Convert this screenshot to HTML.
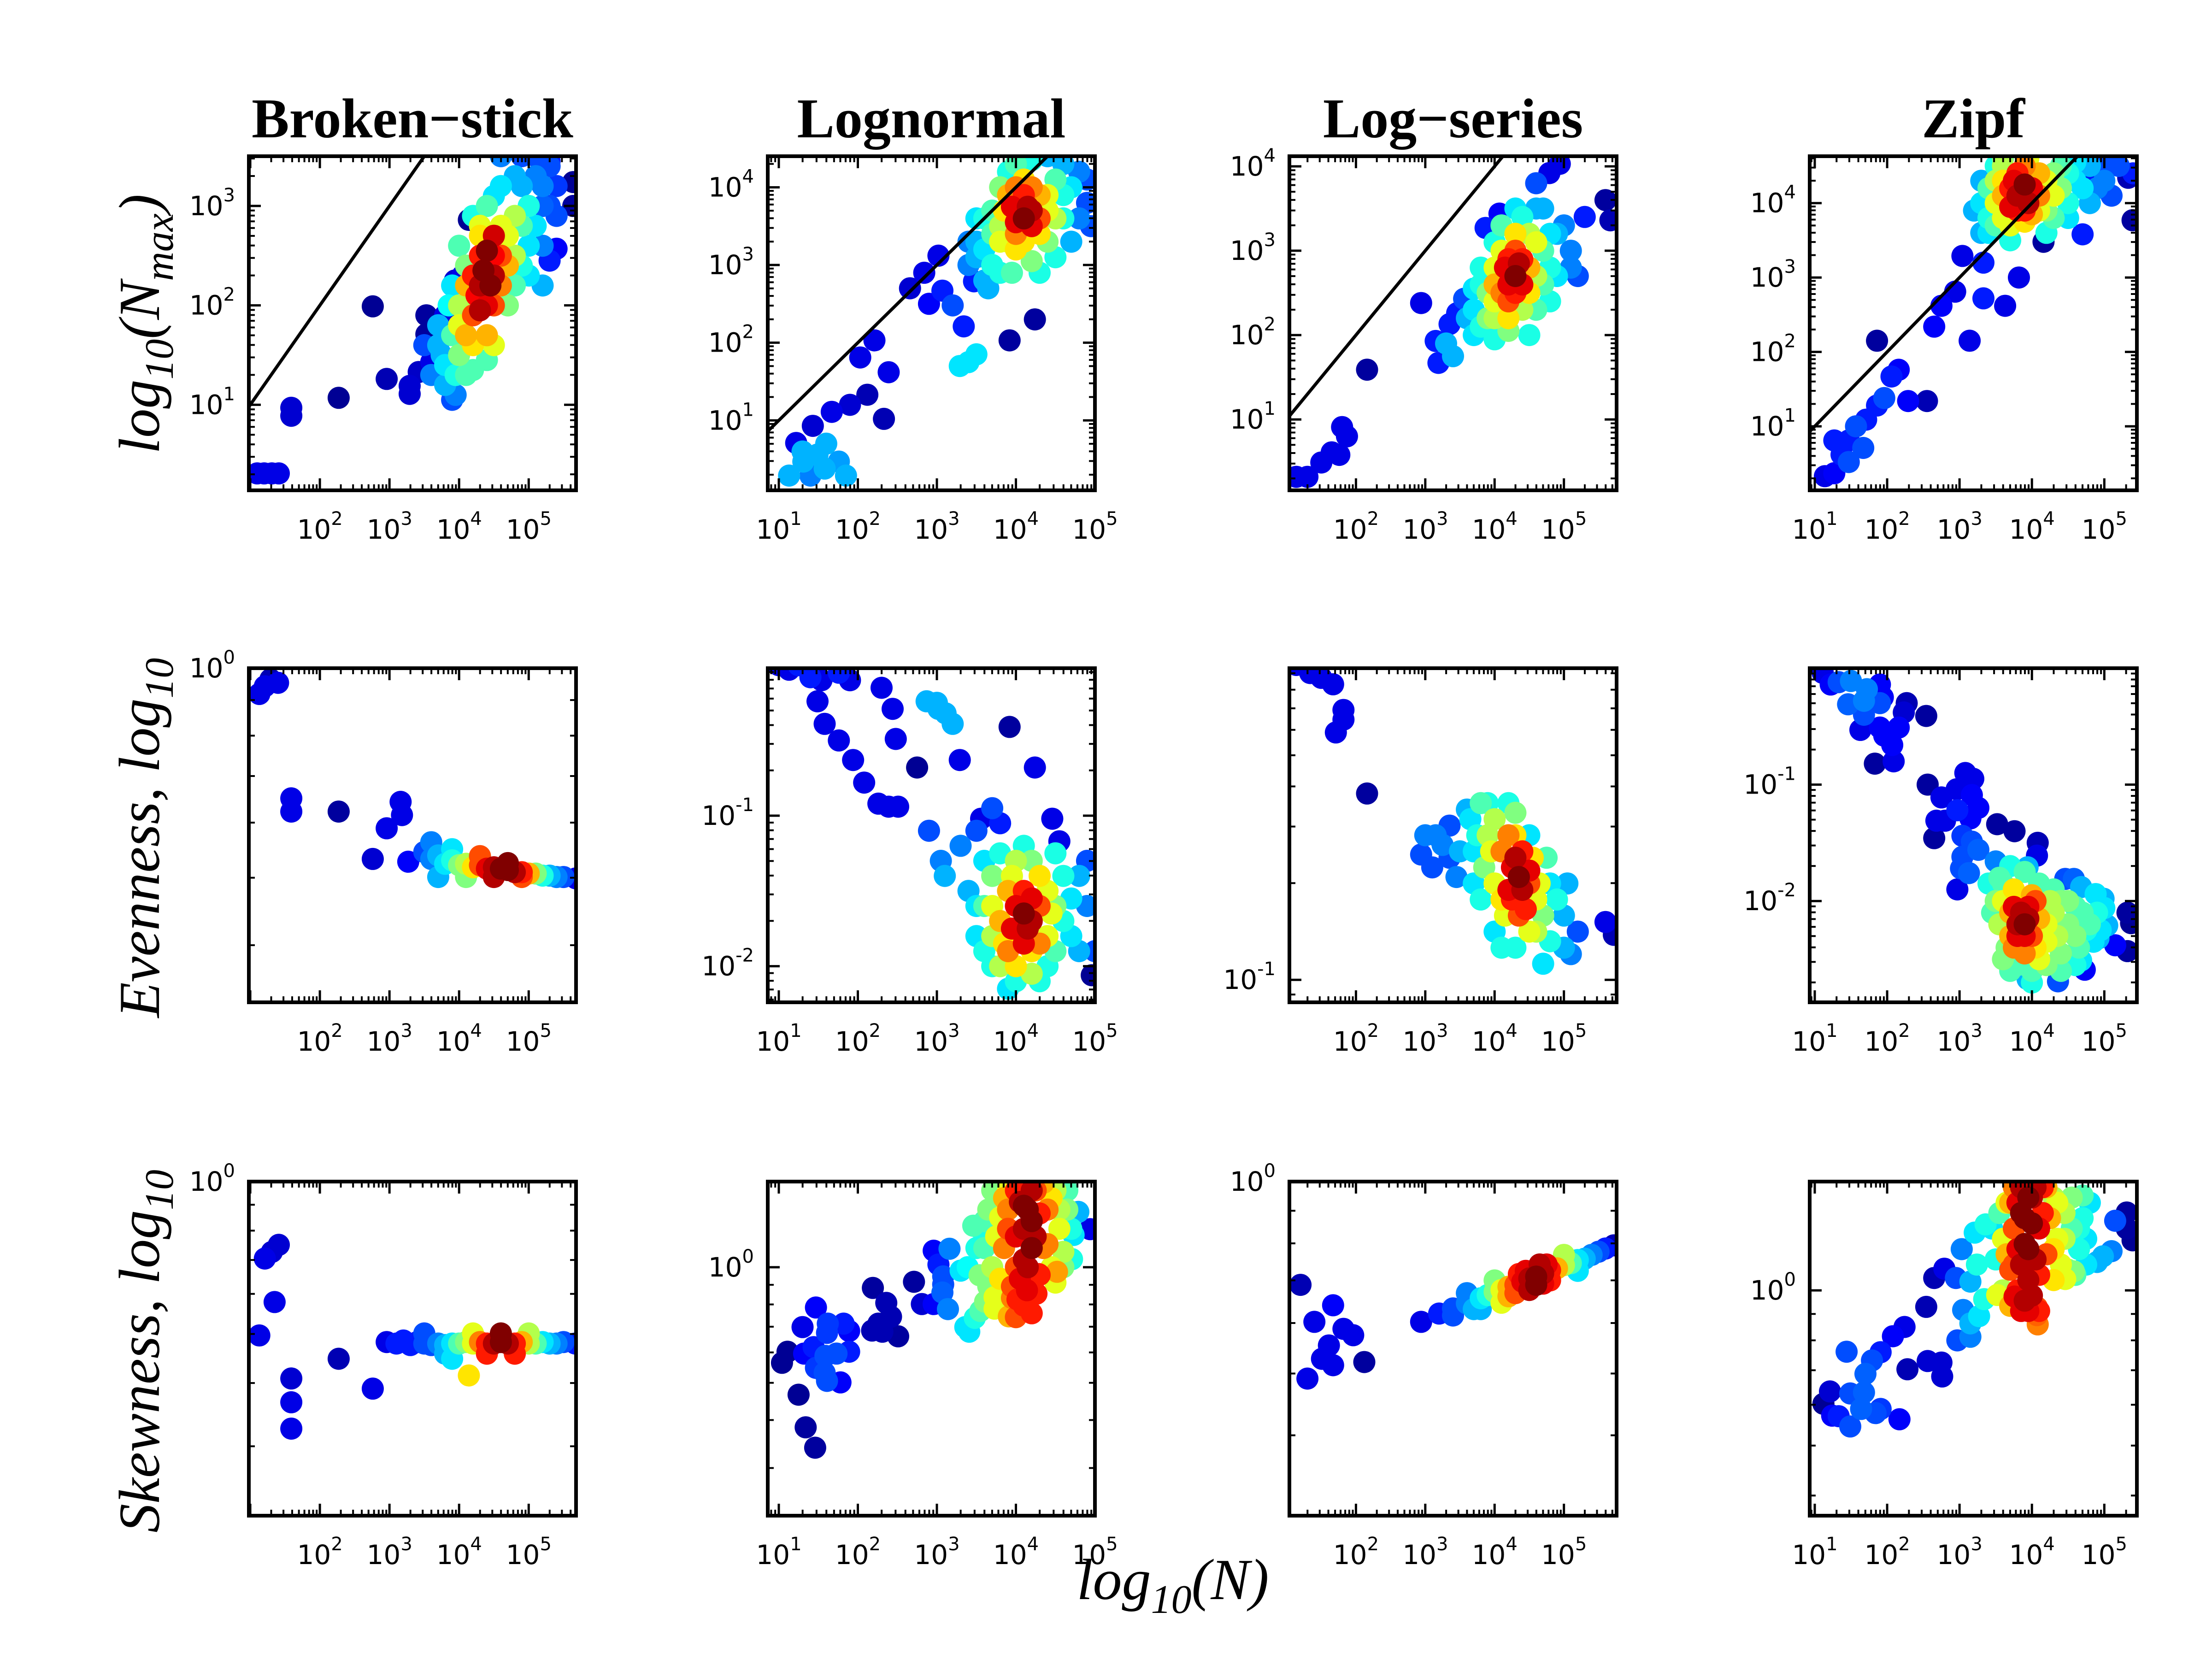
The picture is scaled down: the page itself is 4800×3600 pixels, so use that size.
<!DOCTYPE html>
<html><head><meta charset="utf-8"><title>Abundance distribution scatter grid</title>
<style>html,body{margin:0;padding:0;background:#fff}svg{display:block}</style></head>
<body>
<svg id="fig" xmlns="http://www.w3.org/2000/svg" width="4800" height="3600" viewBox="0 0 4800 3600">
<rect width="4800" height="3600" fill="#fff"/>
<g font-family="Liberation Serif, serif" font-weight="bold" font-size="122" text-anchor="middle">
<text x="895" y="298">Broken−stick</text>
<text x="2021" y="298">Lognormal</text>
<text x="3153" y="298">Log−series</text>
<text x="4282" y="298">Zipf</text>
</g>
<g font-family="Liberation Serif, serif" font-style="italic" font-size="126" text-anchor="middle">
<text transform="translate(345,703) rotate(-90)">log<tspan font-size="88" dy="30">10</tspan><tspan dy="-30">(N</tspan><tspan font-size="88" dy="30">max</tspan><tspan dy="-30">)</tspan></text>
<text transform="translate(345,1818) rotate(-90)">Evenness, log<tspan font-size="88" dy="30">10</tspan></text>
<text transform="translate(345,2932) rotate(-90)">Skewness, log<tspan font-size="88" dy="30">10</tspan></text>
<text x="2545" y="3470">log<tspan font-size="88" dy="30">10</tspan><tspan dy="-30">(N)</tspan></text>
</g>
<g id="panels"></g>
</svg>
<script>
// ---- data (log10 units): [log10 N, log10 y, density 0..1]
const xExpsCol = [[2,3,4,5],[1,2,3,4,5],[2,3,4,5],[1,2,3,4,5]];
const yExpsPanel = [[1,2,3],[1,2,3,4],[1,2,3,4],[1,2,3,4],[0],[-1,-2],[-1],[-1,-2],[0],[0],[0],[0]];
const xRanges = [[0.98,5.68],[0.86,5.0],[1.04,5.76],[0.93,5.45]];
const yRanges = [[0.14,3.5],[0.1,4.4],[0.16,4.12],[0.14,4.63],[-0.48,0],[-2.24,-0.02],[-1.07,-0.03],[-2.87,0],[-0.66,0],[-0.647,0.223],[-0.524,0],[-0.437,0.211]];
const panelNames = ['broken-stick-nmax','lognormal-nmax','log-series-nmax','zipf-nmax','broken-stick-evenness','lognormal-evenness','log-series-evenness','zipf-evenness','broken-stick-skewness','lognormal-skewness','log-series-skewness','zipf-skewness'];

const ptsBrokenNmax = [[1.1,0.31,.1],[1.2,.31,.1],[1.31,.31,.1],[1.41,.31,.1],[1.59,.97,.08],[1.59,.89,.08],[2.27,1.07,.02],[2.76,1.99,.02],[2.96,1.26,.05],[3.29,1.19,.08],[3.29,1.11,.08],[3.53,1.9,.03],[3.53,1.71,.03],[3.42,1.33,.07],[3.6,1.43,.1],[3.6,1.55,.1],[3.8,1.9,.1],[4.14,2.86,.02],[3.94,2.25,.08],[4.05,2.3,.1],[5.64,3.24,.02],[5.64,3.0,.03],[5.4,2.57,.12],[5.3,2.45,.15],
[3.7,1.8,.3],[3.75,1.5,.3],[3.95,1.3,.4],[3.85,2.0,.38],[4.1,1.3,.45],[4.5,3.1,.35],[4.9,3.2,.3],[5.1,3.3,.25],[5.2,3.0,.22],[5.3,3.4,.2],[5.0,2.6,.35],[4.8,2.2,.45],[4.0,2.6,.45],[4.2,2.9,.4],[4.6,3.5,.25],[4.9,3.5,.2],[5.4,2.9,.2],[3.9,1.05,.2],[5.2,2.2,.3],
[4.0,1.8,.6],[4.2,1.6,.65],[4.3,2.7,.65],[4.6,2.8,.6],[4.7,2.4,.7],[4.1,2.2,.7],[4.5,1.6,.6],[4.8,2.9,.55],
[4.25,2.1,.88],[4.5,2.5,.88],[4.35,2.35,1],[4.45,2.2,1],[4.3,1.95,.95],[4.5,2.7,.92],[4.4,2.55,1],
[3.6,1.3,.25],[3.7,1.6,.3],[3.8,1.2,.3],[3.8,1.4,.35],[3.9,1.7,.45],[3.9,2.2,.35],[4.0,1.5,.5],[4.0,2.0,.55],[4.1,1.7,.7],[4.1,2.4,.5],[4.2,1.9,.8],[4.2,2.3,.85],[4.3,2.2,.95],[4.3,2.5,.85],[4.4,2.0,.9],[4.4,1.7,.7],[4.5,2.3,.95],[4.5,2.0,.8],[4.6,2.5,.8],[4.6,2.2,.75],[4.7,2.7,.6],[4.7,2.0,.5],[4.8,2.5,.55],[4.9,2.8,.45],[4.9,2.4,.4],[5.0,3.0,.4],[5.0,2.3,.35],[5.1,2.8,.35],[5.2,3.2,.25],[5.2,2.6,.25],[5.3,3.0,.2],[5.4,3.2,.18],[4.4,3.0,.45],[4.6,3.2,.35],[4.8,3.3,.3],[4.3,2.8,.6],[3.95,1.1,.25],[4.2,1.35,.45],[4.4,1.45,.45],[3.5,1.6,.2],[5.1,3.5,.2],[5.3,3.45,.15]];

const ptsLognormalNmax = [[1.13,.29,.3],[1.31,.47,.3],[1.49,.56,.3],[1.58,.38,.3],[1.76,.47,.28],[1.85,.29,.3],[1.4,.29,.25],[1.22,.71,.1],[1.43,.93,.08],[1.67,1.11,.1],[1.9,1.2,.08],[2.12,1.33,.05],[2.21,2.03,.1],[2.33,1.02,.05],[2.39,1.62,.1],[2.03,1.81,.1],[2.84,2.9,.1],[3.07,2.67,.15],[3.2,2.48,.2],[3.34,2.21,.15],[3.47,2.79,.15],[3.92,2.03,.03],[4.24,2.3,.03],[3.29,1.7,.35],[3.4,1.75,.35],[3.5,1.85,.35],[3.02,3.12,.1],[2.66,2.7,.08],[2.9,2.5,.12],[1.6,.7,.3],[1.3,.6,.3],
[3.4,3.0,.25],[3.5,3.3,.3],[3.6,2.8,.3],[3.8,2.9,.4],[3.7,3.4,.45],[4.6,4.3,.3],[4.8,4.2,.25],[4.9,3.8,.2],[4.5,3.1,.4],[4.3,2.9,.4],[3.9,4.2,.4],[4.2,4.35,.4],[4.95,3.5,.2],[3.6,3.6,.4],
[3.8,3.3,.6],[4.0,3.2,.65],[4.3,3.4,.65],[4.4,3.9,.6],[4.1,4.1,.65],[3.85,3.7,.65],[4.5,3.6,.55],
[4.0,3.55,.9],[4.15,3.75,.95],[4.1,3.6,1],[3.95,3.75,.9],[4.2,3.5,.9],
[3.5,3.1,.3],[3.6,3.2,.35],[3.7,3.0,.4],[3.7,3.7,.45],[3.8,3.5,.55],[3.8,4.0,.5],[3.9,3.3,.6],[3.9,3.9,.7],[4.0,3.4,.75],[4.0,4.0,.75],[4.1,3.3,.65],[4.1,3.9,.85],[4.2,3.7,.95],[4.2,4.0,.75],[4.3,3.6,.8],[4.3,3.9,.7],[4.4,3.3,.5],[4.4,3.7,.6],[4.5,4.1,.45],[4.6,3.6,.4],[4.6,3.9,.4],[4.7,4.0,.35],[4.8,3.6,.25],[4.7,3.3,.3],[3.5,3.6,.35],[4.0,4.3,.45],[3.65,2.7,.3],[4.2,3.05,.5],[3.95,2.9,.45],[4.9,4.1,.2],[3.4,3.3,.25],[4.4,4.4,.3]];

const ptsLogseriesNmax = [[1.14,.32,.1],[1.3,.32,.1],[1.5,.49,.1],[1.65,.61,.1],[1.76,.58,.1],[1.8,.91,.1],[1.87,.8,.1],[2.16,1.59,.03],[2.94,2.38,.1],[3.15,1.93,.15],[3.19,1.67,.15],[3.35,2.13,.15],[3.46,2.26,.15],[3.56,2.43,.2],[3.87,3.27,.15],[4.07,3.44,.12],[4.79,3.92,.1],[4.94,4.03,.1],[5.6,3.6,.03],[5.67,3.36,.05],[3.3,1.9,.3],[3.4,1.75,.3],
[3.6,2.2,.3],[3.7,2.0,.35],[3.8,2.6,.4],[4.0,3.1,.4],[4.3,3.5,.35],[4.7,3.5,.3],[4.9,3.2,.3],[5.1,3.0,.25],[5.2,2.7,.2],[4.8,2.4,.4],[4.5,2.0,.4],[4.0,1.95,.4],[4.6,3.8,.2],[5.3,3.4,.15],
[4.0,2.4,.6],[4.2,2.2,.65],[4.5,2.5,.65],[4.6,3.1,.6],[4.3,3.2,.65],[4.0,2.8,.6],
[4.2,2.6,.9],[4.35,2.85,.95],[4.3,2.7,1],[4.15,2.8,.9],[4.4,2.6,.9],
[3.7,2.3,.35],[3.8,2.1,.4],[3.8,2.8,.4],[3.9,2.5,.5],[3.9,2.2,.5],[4.0,2.6,.7],[4.0,2.2,.55],[4.1,2.5,.75],[4.1,3.0,.6],[4.2,2.9,.85],[4.2,2.4,.8],[4.3,2.5,.85],[4.3,3.0,.8],[4.4,2.9,.85],[4.4,2.3,.55],[4.5,2.8,.7],[4.5,3.2,.55],[4.6,2.7,.55],[4.6,2.3,.45],[4.7,3.0,.45],[4.7,2.6,.45],[4.8,3.2,.35],[4.8,2.8,.4],[4.9,2.7,.35],[5.0,3.3,.25],[4.1,3.3,.45],[4.4,3.4,.4],[4.2,2.05,.5],[3.7,2.55,.35],[5.1,2.8,.25],[4.6,3.5,.3]];

const ptsZipfNmax = [[1.14,.33,.1],[1.27,.37,.12],[1.37,.62,.15],[1.47,.81,.15],[1.57,1.0,.2],[1.71,1.09,.15],[1.86,1.28,.15],[1.96,1.38,.2],[2.06,1.67,.15],[2.16,1.76,.12],[1.86,2.15,.03],[2.29,1.34,.12],[2.55,1.34,.05],[2.65,2.34,.12],[2.75,2.62,.12],[2.94,2.81,.1],[3.14,2.15,.1],[3.33,2.72,.15],[3.33,3.2,.15],[3.04,3.29,.1],[3.63,2.62,.1],[3.82,3.0,.1],[4.16,3.48,.03],[5.39,3.77,.03],[5.33,4.34,.05],[4.8,4.34,.15],[4.7,3.58,.15],[1.47,.52,.2],[1.67,.71,.2],[1.27,.81,.15],
[3.2,3.9,.3],[3.3,4.3,.3],[3.4,3.6,.35],[3.5,4.5,.4],[4.4,4.5,.45],[4.6,4.3,.35],[4.8,4.5,.3],[4.9,4.2,.25],[4.5,3.8,.35],[4.2,3.6,.4],[3.7,3.5,.4],[5.2,4.5,.2],[5.4,4.4,.15],[5.0,4.5,.2],
[3.5,4.0,.6],[3.6,4.3,.65],[4.1,4.4,.7],[4.3,4.1,.6],[3.9,3.75,.65],[3.6,3.8,.6],
[3.8,4.1,.95],[3.9,4.25,1],[3.75,4.3,.9],[3.95,4.0,.95],[3.7,3.95,.9],
[3.3,4.0,.35],[3.4,4.2,.45],[3.4,3.8,.4],[3.5,3.7,.45],[3.5,4.3,.55],[3.6,4.1,.7],[3.6,4.5,.55],[3.7,4.2,.85],[3.7,3.7,.6],[3.8,3.9,.85],[3.8,4.4,.85],[3.9,4.5,.75],[3.9,3.9,.85],[4.0,4.2,.9],[4.0,3.85,.7],[4.1,4.1,.75],[4.1,3.9,.6],[4.2,4.3,.6],[4.2,3.9,.5],[4.3,4.4,.5],[4.3,3.8,.45],[4.4,4.2,.5],[4.5,4.4,.4],[4.5,4.0,.4],[4.7,4.2,.35],[4.6,4.55,.35],[4.8,4.0,.3],[5.0,4.3,.25],[5.1,4.1,.2],[3.3,3.6,.3],[3.95,4.6,.6],[3.6,4.6,.5]];

const ptsBrokenEven = [[1.13,-.037,.1],[1.21,-.026,.1],[1.29,-.016,.05],[1.4,-.021,.1],[1.59,-.187,.1],[1.59,-.206,.1],[2.27,-.206,.03],[2.76,-.274,.08],[2.96,-.23,.1],[3.16,-.192,.1],[3.18,-.211,.1],[3.27,-.278,.12],
[3.5,-.264,.2],[3.6,-.274,.25],[3.7,-.269,.3],[3.8,-.281,.35],[3.9,-.276,.4],[4.0,-.283,.5],[4.1,-.281,.55],[4.2,-.286,.65],[4.3,-.283,.8],[4.4,-.288,.9],[4.5,-.286,.95],[4.6,-.288,1],[4.7,-.29,1],[4.8,-.293,.95],[4.9,-.293,.85],[5.0,-.295,.7],[5.1,-.295,.5],[5.2,-.298,.4],[5.3,-.298,.3],[5.4,-.3,.25],[5.5,-.3,.2],[5.68,-.302,.1],
[3.6,-.25,.25],[3.7,-.3,.3],[3.9,-.26,.35],[4.1,-.3,.5],[4.3,-.27,.8],[4.5,-.3,.95],[4.7,-.28,1],[4.9,-.3,.8]];

const ptsLognormalEven = [[1.0,0,.1],[1.13,-.03,.1],[1.25,0,.15],[1.4,-.08,.15],[1.54,-.1,.1],[1.76,-.05,.15],[1.9,-.1,.1],[1.49,-.24,.1],[1.58,-.39,.1],[1.76,-.5,.1],[1.94,-.63,.1],[2.08,-.78,.1],[2.3,-.15,.1],[2.44,-.29,.1],[2.48,-.49,.1],[2.26,-.92,.1],[2.39,-.94,.1],[2.51,-.94,.1],[2.75,-.68,.02],[2.87,-.24,.3],[3.02,-.29,.3],[3.11,-.32,.3],[3.2,-.39,.3],[3.0,-.25,.3],[3.29,-.63,.1],[3.56,-1.02,.1],[3.92,-.41,.03],[4.24,-.68,.1],[4.46,-1.02,.1],[4.55,-1.17,.1],[4.96,-2.06,.02],[2.9,-1.1,.2],[3.05,-1.3,.25],[3.1,-1.4,.3],[3.3,-1.2,.25],[3.5,-1.1,.2],[3.7,-.95,.2],[3.8,-1.05,.15],
[3.4,-1.5,.3],[3.5,-1.8,.35],[3.6,-1.3,.35],[3.7,-2.0,.4],[4.0,-2.1,.4],[4.4,-2.0,.4],[4.7,-1.8,.35],[4.8,-1.4,.3],[4.5,-1.25,.4],[4.1,-1.2,.4],[3.8,-1.25,.4],[4.9,-1.6,.25],[5.0,-1.9,.2],
[3.7,-1.6,.6],[3.85,-1.85,.65],[4.2,-1.9,.65],[4.45,-1.65,.6],[4.3,-1.4,.65],[3.95,-1.4,.6],
[4.0,-1.6,.9],[4.15,-1.75,.95],[4.1,-1.65,1],[3.95,-1.75,.9],[4.2,-1.55,.9],
[3.5,-1.6,.35],[3.6,-1.9,.4],[3.7,-1.4,.5],[3.8,-1.7,.7],[3.8,-2.0,.55],[3.9,-1.5,.7],[3.9,-1.9,.75],[4.0,-1.75,.9],[4.0,-1.3,.55],[4.0,-2.0,.65],[4.1,-1.5,.85],[4.1,-1.85,.9],[4.2,-1.7,.95],[4.2,-2.05,.55],[4.3,-1.6,.8],[4.3,-1.85,.75],[4.4,-1.5,.6],[4.4,-1.8,.6],[4.5,-1.6,.5],[4.5,-1.9,.45],[4.6,-1.4,.4],[4.6,-1.7,.4],[4.7,-1.55,.35],[4.8,-1.9,.3],[4.2,-1.3,.5],[3.6,-1.6,.45],[3.7,-1.8,.55],[4.3,-2.1,.4],[3.9,-2.15,.35],[4.9,-1.3,.2]];

const ptsLogseriesEven = [[1.14,-.02,.1],[1.34,-.045,.1],[1.5,-.06,.1],[1.67,-.08,.1],[1.82,-.16,.1],[1.82,-.19,.1],[1.71,-.23,.1],[2.16,-.42,.03],
[2.94,-.61,.2],[3.0,-.55,.25],[3.15,-.55,.25],[3.25,-.58,.25],[3.35,-.62,.2],[3.5,-.6,.3],[3.1,-.65,.2],[3.35,-.52,.2],[3.45,-.68,.25],
[3.6,-.47,.3],[3.7,-.6,.35],[3.8,-.75,.4],[3.9,-.45,.4],[4.2,-.45,.4],[4.5,-.55,.35],[4.8,-.7,.35],[5.0,-.8,.3],[5.1,-.92,.25],[4.7,-.95,.35],[4.3,-.9,.4],[4.0,-.85,.35],[5.2,-.85,.2],
[3.95,-.6,.6],[4.1,-.75,.65],[4.3,-.55,.65],[4.6,-.75,.6],[4.5,-.85,.6],
[4.25,-.65,.9],[4.4,-.72,.95],[4.35,-.68,1],[4.2,-.72,.9],[4.5,-.66,.9],
[5.6,-.82,.1],[5.72,-.86,.05],
[3.65,-.5,.35],[3.75,-.55,.4],[3.8,-.45,.45],[3.85,-.65,.5],[3.9,-.55,.55],[4.0,-.5,.55],[4.0,-.7,.6],[4.1,-.6,.75],[4.15,-.8,.6],[4.2,-.55,.75],[4.25,-.75,.85],[4.3,-.62,.95],[4.35,-.8,.8],[4.4,-.6,.85],[4.45,-.78,.85],[4.5,-.7,.8],[4.55,-.62,.65],[4.6,-.85,.55],[4.65,-.7,.6],[4.7,-.8,.5],[4.75,-.62,.45],[4.8,-.88,.4],[4.9,-.75,.4],[5.0,-.9,.3],[5.05,-.7,.3],[4.3,-.48,.5],[4.1,-.9,.4],[3.7,-.7,.35]];

const ptsZipfEven = [[1.11,-.04,.1],[1.22,-.14,.12],[1.33,-.12,.2],[1.5,-.11,.25],[1.72,-.18,.25],[1.9,-.14,.12],[1.94,-.25,.12],[1.46,-.31,.22],[1.68,-.28,.25],[1.68,-.4,.2],[1.9,-.3,.2],[2.27,-.3,.05],[2.23,-.38,.08],[2.54,-.41,.03],[1.63,-.53,.1],[1.9,-.51,.12],[2.16,-.51,.12],[1.96,-.58,.12],[2.07,-.66,.12],[1.83,-.82,.03],[2.09,-.8,.1],[2.56,-1.0,.03],[2.75,-1.11,.1],[2.68,-1.31,.1],[2.8,-1.31,.1],[2.65,-1.46,.03],[2.96,-1.04,.1],[3.08,-.9,.1],[3.19,-.95,.1],[3.17,-1.09,.12],[3.26,-1.2,.12],[3.15,-1.29,.12],[2.97,-1.22,.15],[3.04,-1.44,.18],[3.17,-1.49,.2],[3.52,-1.34,.03],[3.76,-1.4,.03],[4.08,-1.5,.05],[4.07,-1.61,.1],[3.04,-1.62,.2],[3.26,-1.56,.22],[3.5,-1.66,.25],[3.02,-1.72,.2],[2.97,-1.9,.1],[3.13,-1.76,.22],[3.94,-1.71,.3],[4.46,-1.81,.2],[4.58,-1.81,.22],[4.68,-1.88,.3],[4.88,-1.94,.35],[4.99,-1.98,.3],[5.0,-2.06,.35],[5.04,-2.21,.3],[4.92,-2.32,.3],[5.32,-2.1,.03],[5.37,-2.19,.02],[5.15,-2.38,.12],[5.32,-2.43,.03],[4.73,-2.59,.12],[4.36,-2.69,.2],[3.94,-2.67,.3],[4.68,-2.51,.35],
[3.4,-1.85,.4],[3.45,-2.1,.45],[3.55,-1.8,.45],[3.7,-1.7,.4],[3.9,-1.75,.45],[4.1,-1.85,.45],[4.3,-1.9,.45],[4.5,-2.0,.5],[4.7,-2.1,.45],[4.8,-2.2,.45],[4.6,-2.3,.5],[4.4,-2.45,.5],[4.2,-2.55,.5],[4.0,-2.6,.45],[3.8,-2.55,.45],[3.65,-2.4,.5],[4.9,-2.1,.4],
[3.6,-2.0,.6],[3.7,-2.3,.7],[3.85,-2.4,.7],[4.05,-2.4,.65],[4.2,-2.2,.6],[4.0,-1.95,.7],[3.75,-1.9,.65],[4.3,-2.1,.55],
[3.85,-2.1,.95],[3.9,-2.2,1],[3.8,-2.2,.95],[3.95,-2.05,.9],[3.75,-2.05,.9],[3.9,-2.3,.9],
[3.55,-2.2,.55],[3.6,-2.5,.5],[3.7,-2.1,.7],[3.75,-2.4,.75],[3.8,-2.3,.9],[3.8,-1.95,.65],[3.9,-2.45,.75],[3.95,-2.15,.95],[4.0,-2.3,.8],[4.05,-2.0,.8],[4.1,-2.15,.7],[4.1,-2.5,.6],[4.2,-2.35,.6],[4.25,-2.0,.55],[4.35,-2.3,.55],[4.4,-2.0,.5],[4.5,-2.2,.5],[4.6,-2.05,.45],[4.65,-2.4,.45],[4.75,-2.25,.4],[4.85,-2.35,.35],[4.95,-2.25,.35],[4.4,-2.6,.45],[4.0,-2.7,.4],[3.7,-2.6,.45],[3.5,-2.0,.5],[3.6,-1.85,.45],[4.6,-2.55,.4]];

const ptsBrokenSkew = [[1.13,-.304,.1],[1.21,-.152,.1],[1.31,-.139,.08],[1.41,-.125,.08],[1.35,-.238,.1],[1.59,-.389,.08],[1.59,-.436,.1],[1.59,-.488,.1],[2.27,-.35,.05],[2.76,-.409,.1],
[2.96,-.317,.1],[3.1,-.32,.15],[3.2,-.314,.15],[3.3,-.323,.15],[3.4,-.317,.15],[3.5,-.32,.2],[3.6,-.323,.2],[3.7,-.32,.25],[3.8,-.323,.3],[3.9,-.32,.35],[4.0,-.32,.45],[4.1,-.317,.5],[4.2,-.32,.6],[4.3,-.317,.75],[4.4,-.32,.85],[4.5,-.32,.95],[4.6,-.317,1],[4.7,-.32,.95],[4.8,-.32,.85],[4.9,-.317,.7],[5.0,-.32,.55],[5.1,-.32,.45],[5.2,-.317,.35],[5.3,-.32,.3],[5.4,-.32,.25],[5.5,-.317,.2],[5.67,-.32,.15],[3.9,-.35,.35],[4.14,-.383,.65],
[3.5,-.3,.2],[3.8,-.34,.3],[4.2,-.3,.6],[4.4,-.34,.85],[4.6,-.3,1],[4.8,-.34,.85],[5.0,-.3,.55]];

const ptsLognormalSkew = [[1.04,-.249,.02],[1.11,-.22,.02],[1.3,-.156,.1],[1.47,-.105,.12],[1.32,-.225,.12],[1.44,-.208,.15],[1.62,-.147,.18],[1.61,-.171,.18],[1.59,-.231,.2],[1.73,-.225,.2],[1.82,-.147,.15],[1.89,-.166,.12],[1.89,-.22,.15],[1.47,-.262,.18],[1.58,-.275,.2],[1.61,-.296,.2],[1.78,-.3,.12],[1.25,-.332,.02],[1.34,-.417,.03],[1.46,-.47,.03],[2.19,-.054,.03],[2.36,-.093,.05],[2.26,-.147,.05],[2.18,-.165,.05],[2.31,-.168,.05],[2.42,-.129,.05],[2.51,-.18,.03],[2.71,-.038,.03],[2.81,-.096,.08],[2.96,-.096,.12],[2.96,.043,.12],[3.02,.007,.15],[3.08,-.024,.2],[3.08,-.045,.2],[3.07,-.066,.22],[3.14,-.109,.25],[3.16,.048,.25],[3.3,-.009,.35],[3.39,0,.38],[3.54,-.021,.5],[3.46,.108,.45],[3.36,-.156,.35],[3.41,-.168,.35],[3.48,-.132,.4],[3.55,-.114,.45],[3.61,-.09,.5],[3.73,-.078,.6],[3.73,-.108,.6],[3.91,-.128,.7],[4.02,-.084,.85],[4.14,-.06,.9],[4.26,-.069,.85],[4.29,-.018,.85],[4.52,-.012,.72],[4.71,.021,.4],[4.73,.084,.35],[4.79,.144,.3],[4.94,.099,.1],
[3.55,.1,.4],[3.6,.05,.45],[3.65,.15,.5],[3.7,.0,.55],[4.5,.2,.55],[4.55,.1,.6],[4.6,.04,.55],[4.45,.0,.6],[4.65,.15,.5],[3.9,.2,.6],[3.8,.13,.6],
[3.85,.05,.75],[3.9,.15,.75],[4.4,.15,.75],[4.35,.05,.75],[4.0,.0,.8],[4.25,.2,.8],
[4.1,.1,.95],[4.15,.15,1],[4.2,.05,1],[4.05,.17,.95],[4.2,.12,1],[4.1,.02,.95],
[3.5,.05,.4],[3.6,.12,.45],[3.65,-.05,.5],[3.7,.2,.5],[3.75,.08,.6],[3.8,-.03,.65],[3.85,.18,.7],[3.9,.1,.8],[3.95,-.05,.8],[4.0,.08,.9],[4.0,.2,.85],[4.05,-.03,.9],[4.1,.16,1],[4.15,.0,.95],[4.2,.2,.95],[4.25,.08,.95],[4.3,-.02,.85],[4.3,.14,.85],[4.35,.22,.7],[4.4,.06,.75],[4.45,.18,.65],[4.5,-.04,.6],[4.55,.15,.55],[4.6,.0,.5],[4.65,.2,.45],[4.7,.1,.4],[4.1,-.1,.85],[4.2,-.12,.85],[4.0,-.13,.8],[3.95,-.08,.75]];

const ptsLogseriesSkew = [[1.2,-.162,.05],[1.4,-.22,.1],[1.67,-.194,.12],[1.82,-.231,.1],[1.96,-.241,.1],[1.61,-.257,.1],[1.51,-.278,.1],[1.3,-.309,.1],[1.67,-.288,.1],[2.12,-.283,.03],
[2.94,-.22,.1],[3.2,-.207,.15],[3.4,-.199,.2],[3.6,-.191,.25],[3.8,-.183,.35],[3.9,-.178,.4],[4.0,-.173,.5],[4.1,-.17,.6],[4.2,-.165,.7],[4.3,-.162,.8],[4.4,-.157,.9],[4.5,-.152,.95],[4.6,-.149,1],[4.7,-.144,.95],[4.8,-.139,.85],[4.9,-.136,.7],[5.0,-.131,.55],[5.1,-.128,.45],[5.2,-.123,.35],[5.3,-.121,.3],[5.4,-.115,.25],[5.5,-.11,.2],[5.6,-.105,.15],[5.72,-.1,.05],
[3.4,-.21,.2],[3.7,-.2,.3],[4.3,-.175,.8],[4.45,-.14,.9],[4.6,-.162,1],[4.75,-.13,.9],
[3.6,-.175,.25],[3.8,-.2,.3],[4.0,-.155,.5],[4.2,-.18,.7],[4.35,-.145,.85],[4.5,-.17,.95],[4.65,-.13,.95],[4.8,-.155,.85],[5.0,-.115,.55],[5.2,-.14,.35],[4.1,-.19,.6],[4.7,-.16,.9]];

const ptsZipfSkew = [[1.12,-.22,.02],[1.21,-.196,.08],[1.24,-.243,.12],[1.33,-.244,.15],[1.49,-.264,.2],[1.44,-.119,.2],[1.49,-.2,.2],[1.68,-.198,.22],[1.7,-.162,.22],[1.64,-.23,.22],[1.84,-.238,.2],[1.91,-.23,.18],[1.79,-.136,.2],[1.91,-.12,.15],[2.08,-.089,.12],[2.24,-.071,.1],[2.17,-.25,.12],[2.28,-.153,.05],[2.54,-.032,.05],[2.56,-.137,.08],[2.75,-.14,.08],[2.76,-.167,.08],[2.65,.024,.05],[2.79,.042,.1],[2.97,-.097,.2],[3.15,-.09,.25],[3.15,-.064,.3],[3.05,-.038,.25],[3.27,-.05,.35],[2.95,.024,.2],[3.15,.017,.3],[3.03,.08,.25],[3.21,.112,.35],[3.36,.128,.4],[3.24,.05,.4],[3.34,-.017,.4],[3.52,-.009,.6],[4.07,-.033,.8],[4.07,-.048,.78],[4.08,-.066,.75],[3.76,-.012,.9],[4.46,.022,.6],[4.58,.037,.5],[4.7,.184,.45],[5.15,.135,.2],[5.31,.151,.03],[5.31,.12,.03],[5.39,.097,.02],[4.98,.066,.3],[5.1,.076,.25],[4.9,.055,.3],
[3.45,.12,.35],[3.5,.06,.4],[3.55,.15,.45],[3.6,0,.55],[4.3,.18,.55],[4.35,.1,.6],[4.45,.15,.55],[4.55,.12,.45],[4.65,.08,.4],[4.7,.14,.4],[4.75,.05,.35],[4.5,.04,.5],[4.3,.02,.65],[4.2,.2,.7],[4.0,.21,.8],[3.7,.17,.7],[3.65,.07,.7],
[3.75,.12,.8],[3.8,.0,.85],[4.1,.03,.85],[4.15,.15,.85],[3.7,.04,.8],
[3.85,.15,1],[3.9,.09,1],[3.95,.02,.95],[3.85,.2,.95],[4.0,.13,1],[3.9,-.02,.95],[3.95,.18,1],
[3.6,.1,.6],[3.65,.17,.6],[3.7,-.03,.7],[3.75,.05,.8],[3.75,.2,.75],[3.8,.08,.9],[3.8,.17,.9],[3.85,-.04,.9],[3.85,.05,.95],[3.9,.14,1],[3.95,.08,1],[4.0,-.01,.95],[4.0,.18,.95],[4.05,.06,.95],[4.1,.12,.9],[4.1,-.04,.85],[4.15,.2,.85],[4.2,.07,.8],[4.25,.14,.7],[4.3,.08,.65],[4.35,.17,.6],[4.4,.05,.6],[4.45,.1,.55],[4.55,.18,.5],[4.6,.03,.45],[4.65,.12,.4],[4.75,.1,.35],[4.8,.17,.35],[3.95,-.04,.9],[4.05,.2,.95]];

const panelPoints = [ptsBrokenNmax, ptsLognormalNmax, ptsLogseriesNmax, ptsZipfNmax, ptsBrokenEven, ptsLognormalEven, ptsLogseriesEven, ptsZipfEven, ptsBrokenSkew, ptsLognormalSkew, ptsLogseriesSkew, ptsZipfSkew];

// ---- layout
const NS = 'http://www.w3.org/2000/svg';
const LEFTS = [540,1666,2798,3927], TOPS = [339,1450,2564], PW = 710, PH = 725;
const root = document.getElementById('panels');
function mk(tag, attrs, parent){const e=document.createElementNS(NS,tag);for(const k in attrs)e.setAttribute(k,attrs[k]);(parent||root).appendChild(e);return e;}
function jet(c){const cl=v=>Math.max(0,Math.min(1,v));const r=cl(1.5-Math.abs(4*c-3)),g=cl(1.5-Math.abs(4*c-2)),b=cl(1.5-Math.abs(4*c-1));return `rgb(${Math.round(r*255)},${Math.round(g*255)},${Math.round(b*255)})`;}

for(let p=0;p<12;p++){
  const row=Math.floor(p/4), col=p%4;
  const L=LEFTS[col], T=TOPS[row];
  const xr=xRanges[col], yr=yRanges[p];
  const sx=v=>L+(v-xr[0])/(xr[1]-xr[0])*PW;
  const sy=v=>T+PH-(v-yr[0])/(yr[1]-yr[0])*PH;
  const g=mk('g',{});
  
  
  const cp=mk('clipPath',{id:'cp'+p},g);
  mk('rect',{x:L,y:T,width:PW,height:PH},cp);
  const marks=mk('g',{'clip-path':'url(#cp'+p+')'},g);
  
  
  const pts=panelPoints[p].slice().sort((a,b)=>a[2]-b[2]);
  pts.forEach(d=>{
    const c=mk('circle',{cx:sx(d[0]).toFixed(1),cy:sy(d[1]).toFixed(1),r:24,fill:jet(d[2])},marks);
    
    
  });
  if(row===0){
    const ln=mk('line',{x1:sx(xr[0]),y1:sy(xr[0]),x2:sx(xr[1]),y2:sy(xr[1]),stroke:'#000','stroke-width':7},marks);
    
    
  }
  const tk=mk('g',{stroke:'#000'},g);
  
  
  function ticksFor(r){const out=[];for(let d=Math.floor(r[0])-1;d<=Math.ceil(r[1]);d++){for(let k=1;k<10;k++){const v=d+Math.log10(k);if(v>=r[0]-1e-6&&v<=r[1]+1e-6)out.push([v,k===1]);}}return out;}
  ticksFor(xr).forEach(([v,maj])=>{const X=sx(v),len=maj?26:13,w=maj?5:4;
    mk('line',{x1:X,y1:T+PH,x2:X,y2:T+PH-len,'stroke-width':w},tk);
    mk('line',{x1:X,y1:T,x2:X,y2:T+len,'stroke-width':w},tk);});
  ticksFor(yr).forEach(([v,maj])=>{const Y=sy(v),len=maj?26:13,w=maj?5:4;
    mk('line',{x1:L,y1:Y,x2:L+len,y2:Y,'stroke-width':w},tk);
    mk('line',{x1:L+PW,y1:Y,x2:L+PW-len,y2:Y,'stroke-width':w},tk);});
  const fr=mk('rect',{x:L,y:T,width:PW,height:PH,fill:'none',stroke:'#000','stroke-width':8},g);
  
  
  xExpsCol[col].forEach(e=>{
    const t=mk('text',{x:sx(e),y:T+PH+105,'text-anchor':'middle','font-family':'DejaVu Sans, sans-serif','font-size':58},g);
    
    
    t.textContent='10';
    const s=mk('tspan',{'font-size':40,dy:-30},t); s.textContent=String(e);
  });
  yExpsPanel[p].forEach(e=>{
    const t=mk('text',{x:L-30,y:sy(e)+20,'text-anchor':'end','font-family':'DejaVu Sans, sans-serif','font-size':58},g);
    
    
    t.textContent='10';
    const s=mk('tspan',{'font-size':40,dy:-30},t); s.textContent=String(e);
  });
}
</script>
</body></html>
